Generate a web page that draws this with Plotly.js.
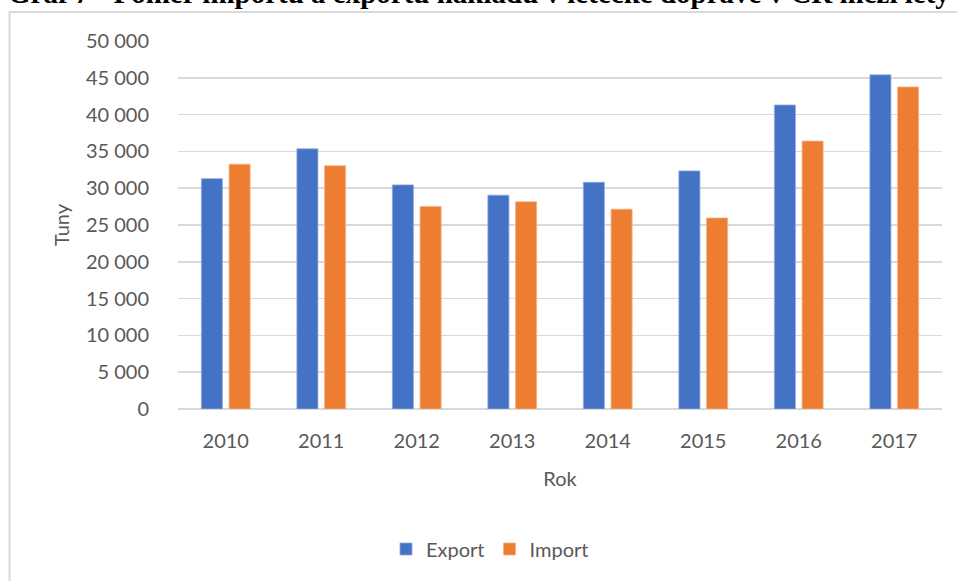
<!DOCTYPE html>
<html>
<head>
<meta charset="utf-8">
<script src="https://cdn.plot.ly/plotly-3.0.1.min.js"></script>
<style>
  html, body { margin: 0; padding: 0; background: #ffffff; overflow: hidden; }
  #chart { width: 957px; height: 581px; }
</style>
</head>
<body>
<div id="chart"></div>
<script>
var years = ['2010', '2011', '2012', '2013', '2014', '2015', '2016', '2017'];
var exportValues = [31300, 35350, 30450, 29050, 30800, 32350, 41300, 45400];
var importValues = [33250, 33050, 27500, 28150, 27150, 25950, 36400, 43750];
var yTicks = [0, 5000, 10000, 15000, 20000, 25000, 30000, 35000, 40000, 45000, 50000];
var seriesNames = ['Export', 'Import'];
var titleText = 'Graf 7 - Poměr importu a exportu nákladů v letecké dopravě v ČR mezi lety 2010–2017';

var L = 178, R = 15, T = 41, B = 172, W = 957, H = 581;
var pw = W - L - R, ph = H - T - B;
function px2x(px) { return (px - L) / pw; }
function py2y(py) { return (H - B - py) / ph; }

var font = 'Lato, "Open Sans", sans-serif';
var grey = '#595959';

var traces = [
  { type: 'bar', name: seriesNames[0], x: years, y: exportValues,
    marker: { color: '#4472C4', line: { color: '#8fa9dc', width: 0.8 } } },
  { type: 'bar', name: seriesNames[1], x: years, y: importValues,
    marker: { color: '#ED7D31', line: { color: '#f4b183', width: 0.8 } } }
];

var layout = {
  width: W, height: H,
  margin: { l: L, r: R, t: T, b: B, pad: 0 },
  paper_bgcolor: '#ffffff', plot_bgcolor: '#ffffff',
  separators: ', ',
  barmode: 'group', bargap: 0.42, bargroupgap: 0.24,
  font: { family: font, size: 20, color: grey },
  showlegend: true,
  legend: { orientation: 'h', x: px2x(490), xanchor: 'center', y: py2y(549), yanchor: 'middle',
            font: { family: font, size: 20, color: grey }, itemwidth: 30, traceorder: 'normal' },
  xaxis: {
    type: 'category', showgrid: false, zeroline: false, showline: false,
    ticks: '', tickfont: { family: font, size: 20, color: grey },
    ticklabelstandoff: 18,
    title: { text: 'Rok', font: { family: font, size: 20, color: grey }, standoff: 20 }
  },
  yaxis: {
    range: [0, 50000], tickvals: yTicks, tickformat: ',d',
    showgrid: true, gridcolor: '#d9d9d9', gridwidth: 1.5,
    zeroline: true, zerolinecolor: '#d9d9d9', zerolinewidth: 1.5,
    showline: false, ticks: '',
    tickfont: { family: font, size: 20, color: grey },
    ticklabelstandoff: 28,
    title: { text: 'Tuny', font: { family: font, size: 20, color: grey }, standoff: 10 }
  },
  shapes: [
    { type: 'rect', xref: 'paper', yref: 'paper',
      x0: px2x(9.5), x1: px2x(1010), y0: py2y(620), y1: py2y(12),
      line: { color: '#d9d9d9', width: 2 }, fillcolor: 'rgba(0,0,0,0)', layer: 'below' }
  ],
  annotations: [
    { text: '<b>' + titleText + '</b>', xref: 'paper', yref: 'paper',
      x: px2x(6), xanchor: 'left', y: py2y(11.5), yanchor: 'bottom', showarrow: false,
      font: { family: '"Liberation Serif", "Times New Roman", serif', size: 29, color: '#000000' } }
  ]
};

Plotly.newPlot('chart', traces, layout, { displayModeBar: false, staticPlot: true });
</script>
</body>
</html>
